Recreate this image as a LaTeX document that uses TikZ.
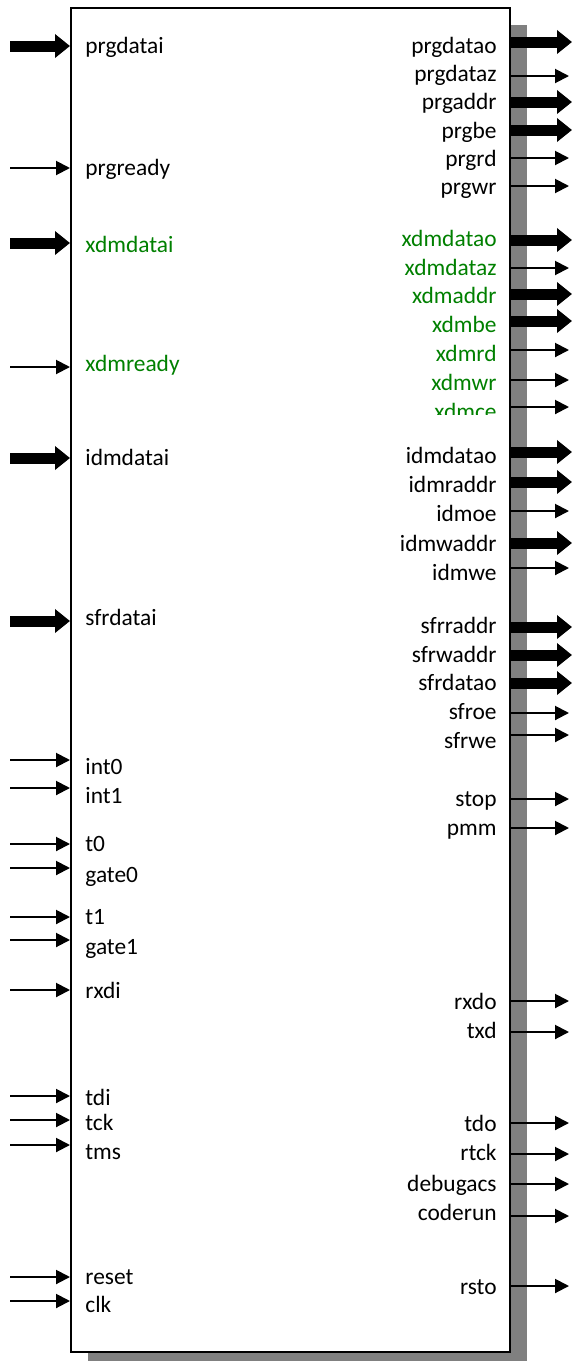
\documentclass[tikz,border=0pt]{standalone}
\usepackage{fontspec}
\setmainfont{Carlito}
\usetikzlibrary{arrows.meta}
\definecolor{xdmgreen}{RGB}{0,128,0}
\definecolor{shadowgray}{RGB}{128,128,128}
\tikzset{
  bus/.style={line width=5.5pt, -{Triangle[length=7.5pt,width=11.5pt]}},
  wire/.style={line width=1pt, -{Triangle[length=7pt,width=7pt]}},
  inlabel/.style={anchor=west, inner sep=0pt, text height=8pt, text depth=2.5pt, yshift=-1pt},
  outlabel/.style={anchor=east, inner sep=0pt, text height=8pt, text depth=2.5pt, yshift=-1pt},
}
\begin{document}
\begin{tikzpicture}[x=0.5pt,y=-0.5pt,font=\fontsize{11.7}{14}\selectfont]
\useasboundingbox (0,0) rectangle (573,1361);
% shadow and core block
\fill[shadowgray] (88,25) rectangle (527,1361);
\node[draw, line width=1pt, fill=white, inner sep=0pt,
      minimum width=219.5pt, minimum height=672pt] (core) at (290.5,680) {};
% inputs: arrow y / label y / name / kind / colour
\foreach \ya/\yt/\sig/\kind/\col in {
    46/46/prgdatai/bus/black, 168/168/prgready/wire/black,
    243/245/xdmdatai/bus/xdmgreen, 367/364/xdmready/wire/xdmgreen,
    458/458/idmdatai/bus/black, 621/618/sfrdatai/bus/black,
    760/767/int0/wire/black, 788/796/int1/wire/black,
    844/844/t0/wire/black, 868/875/gate0/wire/black,
    917/917/t1/wire/black, 940/947/gate1/wire/black,
    990/991/rxdi/wire/black,
    1096/1098/tdi/wire/black, 1120/1123/tck/wire/black, 1145/1152/tms/wire/black,
    1277/1277/reset/wire/black, 1301/1305/clk/wire/black}
{
  \coordinate (\sig-in) at (10,\ya);
  \draw[\kind] (\sig-in) -- (core.west |- \sig-in);
  \node[inlabel, text=\col] (\sig) at (85,\yt) {\sig};
}
% outputs: arrow y / label y / name / kind / tip x / colour
\foreach \ya/\yt/\sig/\kind/\xe/\col in {
    42/46/prgdatao/bus/572/black, 76/74/prgdataz/wire/569/black,
    102/102/prgaddr/bus/572/black, 130/131/prgbe/bus/572/black,
    158/159/prgrd/wire/569/black, 186/187/prgwr/wire/569/black,
    240/239/xdmdatao/bus/572/xdmgreen, 268/268/xdmdataz/wire/569/xdmgreen,
    294/296/xdmaddr/bus/572/xdmgreen, 321/325/xdmbe/bus/572/xdmgreen,
    350/354/xdmrd/wire/569/xdmgreen, 380/383/xdmwr/wire/569/xdmgreen,
    452/456/idmdatao/bus/572/black, 482/485/idmraddr/bus/572/black,
    511/514/idmoe/wire/569/black, 543/544/idmwaddr/bus/572/black,
    568/573/idmwe/wire/569/black,
    627/626/sfrraddr/bus/572/black, 655/655/sfrwaddr/bus/572/black,
    683/683/sfrdatao/bus/572/black, 713/712/sfroe/wire/569/black,
    735/741/sfrwe/wire/569/black,
    799/799/stop/wire/569/black, 828/828/pmm/wire/569/black,
    1001/1002/rxdo/wire/569/black, 1032/1031/txd/wire/569/black,
    1123/1124/tdo/wire/569/black, 1154/1153/rtck/wire/569/black,
    1184/1184/debugacs/wire/569/black, 1216/1213/coderun/wire/569/black,
    1286/1287/rsto/wire/569/black}
{
  \coordinate (\sig-out) at (\xe,\ya);
  \draw[\kind] (core.east |- \sig-out) -- (\sig-out);
  \node[outlabel, text=\col] (\sig) at (497,\yt) {\sig};
}
% xdmce, cut off at the bottom
\coordinate (xdmce-out) at (569,407);
\draw[wire] (core.east |- xdmce-out) -- (xdmce-out);
\begin{scope}
  \clip (380,395) rectangle (505,414.5);
  \node[outlabel, text=xdmgreen] (xdmce) at (497,412) {xdmce};
\end{scope}
\end{tikzpicture}
\end{document}
